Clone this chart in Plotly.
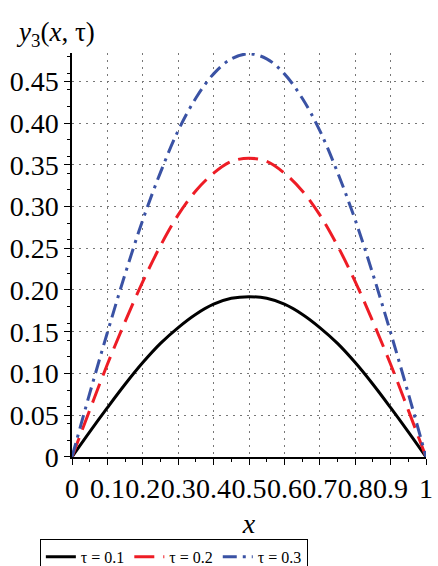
import plotly.graph_objects as go

x_vals = [0.0, 0.05, 0.1, 0.15, 0.2, 0.25, 0.3, 0.35, 0.4, 0.45, 0.5,
          0.55, 0.6, 0.65, 0.7, 0.75, 0.8, 0.85, 0.9, 0.95, 1.0]
y_tau01 = [0.0, 0.030, 0.059, 0.087, 0.113, 0.136, 0.155, 0.171, 0.183, 0.190, 0.192,
           0.190, 0.183, 0.171, 0.155, 0.136, 0.113, 0.087, 0.059, 0.030, 0.0]
y_tau02 = [0.0, 0.056, 0.111, 0.162, 0.210, 0.253, 0.290, 0.319, 0.340, 0.354, 0.358,
           0.354, 0.340, 0.319, 0.290, 0.253, 0.210, 0.162, 0.111, 0.056, 0.0]
y_tau03 = [0.0, 0.076, 0.149, 0.219, 0.284, 0.341, 0.391, 0.430, 0.459, 0.477, 0.483,
           0.477, 0.459, 0.430, 0.391, 0.341, 0.284, 0.219, 0.149, 0.076, 0.0]
names = ["τ = 0.1", "τ = 0.2", "τ = 0.3"]
x_ticks = [0, 0.1, 0.2, 0.3, 0.4, 0.5, 0.6, 0.7, 0.8, 0.9, 1]
x_ticktext = ["0", "0.1", "0.2", "0.3", "0.4", "0.5", "0.6", "0.7", "0.8", "0.9", "1"]
y_ticks = [0, 0.05, 0.10, 0.15, 0.20, 0.25, 0.30, 0.35, 0.40, 0.45]
y_ticktext = ["0", "0.05", "0.10", "0.15", "0.20", "0.25", "0.30", "0.35", "0.40", "0.45"]

serif = "'Liberation Serif', 'Times New Roman', Times, 'DejaVu Serif', serif"

fig = go.Figure()
styles = [
    dict(color="black", width=3, dash="solid"),
    dict(color="#ee1c25", width=3, dash="20px,9px"),
    dict(color="#3a52a4", width=3, dash="14px,6px,3px,6px"),
]
for ys, nm, st in zip([y_tau01, y_tau02, y_tau03], names, styles):
    fig.add_trace(go.Scatter(x=x_vals, y=ys, mode="lines", name=nm,
                             line=dict(shape="spline", **st)))

axis_common = dict(
    showgrid=True, gridcolor="#777777", griddash="2px,5px", gridwidth=1,
    showline=True, linecolor="black", linewidth=1.5,
    ticks="outside", ticklen=6, tickcolor="black", tickwidth=1,
    zeroline=False,
    ticklabeloverflow="allow",
    tickangle=0,
    tickfont=dict(family=serif, size=28, color="black"),
    minor=dict(ticks="outside", ticklen=3, tickcolor="black", showgrid=False),
)

fig.update_xaxes(range=[0, 1], tickvals=x_ticks, ticktext=x_ticktext,
                 title=dict(text="<i>x</i>", font=dict(family=serif, size=28, color="black"), standoff=10),
                 **axis_common)
fig.update_yaxes(range=[0, 0.484], tickvals=y_ticks, ticktext=y_ticktext, **axis_common)

fig.update_layout(
    width=438, height=566,
    margin=dict(l=72, r=5, t=53, b=102),
    plot_bgcolor="white", paper_bgcolor="white",
    font=dict(family=serif),
    showlegend=True,
    legend=dict(orientation="h", xref="container", yref="container",
                x=0.091, y=0.048, xanchor="left", yanchor="top",
                bordercolor="black", borderwidth=1,
                font=dict(family=serif, size=16, color="black"),
                itemwidth=30, tracegroupgap=0),
    annotations=[dict(text="<i>y</i><sub>3</sub>(<i>x</i>, τ)", xref="paper", yref="paper",
                      x=-0.165, y=1.0, xanchor="left", yanchor="bottom", showarrow=False,
                      font=dict(family=serif, size=27, color="black"))],
)

fig.write_html("out.html")
